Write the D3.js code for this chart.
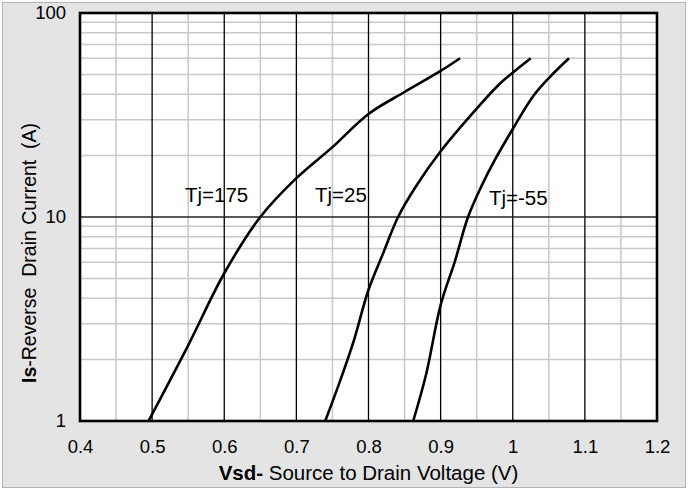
<!DOCTYPE html>
<meta charset="utf-8">
<style>
    body { margin: 0; background: #fff; }
    text { font-family: "Liberation Sans", Arial, sans-serif; fill: #000; }
</style>
<svg width="692" height="490"></svg>
<script src="https://d3js.org/d3.v7.min.js"></script>
<script>

    // curve data: Vsd (V) vs Is (A)
    var vsd175 = [0.495, 0.55, 0.6, 0.65, 0.7, 0.75, 0.8, 0.85, 0.9, 0.927];
    var is175  = [1, 2.35, 5.3, 10, 15.5, 22, 32, 41, 52, 60];

    var vsd25 = [0.74, 0.76, 0.78, 0.8, 0.82, 0.841, 0.865, 0.9, 0.95, 0.982, 1.0, 1.025];
    var is25  = [1, 1.55, 2.5, 4.4, 6.6, 10, 14, 21, 34, 45, 51, 60];

    var vsdM55 = [0.862, 0.88, 0.9, 0.92, 0.938, 0.958, 0.975, 1.0, 1.028, 1.05, 1.078];
    var isM55  = [1, 1.7, 3.7, 6.1, 10, 14.5, 19, 27, 39, 48, 60];

    var xTicks = [0.4, 0.5, 0.6, 0.7, 0.8, 0.9, 1, 1.1, 1.2];
    var yTicks = [1, 10, 100];

    var labels = [
        {text: "Tj=175", v: 0.5456, i: 11.85},
        {text: "Tj=25",  v: 0.7258, i: 11.85},
        {text: "Tj=-55", v: 0.967,  i: 11.45}
    ];

    var svg = d3.select("svg"),
        margin = {top: 13, right: 35, bottom: 69, left: 80},
        width = 692 - margin.left - margin.right,
        height = 490 - margin.top - margin.bottom;

    // chart area
    svg.append("rect")
        .attr("x", 2.5).attr("y", 2.5)
        .attr("width", 683).attr("height", 485)
        .attr("fill", "#e4e4e4")
        .attr("stroke", "#b4b4b4");

    var x = d3.scaleLinear().domain([0.4, 1.2]).range([0, width]),
        y = d3.scaleLog().domain([1, 100]).range([height, 0]);

    var g = svg.append("g")
        .attr("transform", "translate(" + margin.left + "," + margin.top + ")");

    g.append("rect")
        .attr("width", width).attr("height", height)
        .attr("fill", "#fff");

    // minor grid
    var minorY = [];
    [1, 10].forEach(function(d) { for (var k = 2; k <= 9; k++) minorY.push(d * k); });
    g.selectAll(".hminor").data(minorY).enter().append("line")
        .attr("x1", 0).attr("x2", width)
        .attr("y1", function(d) { return y(d); }).attr("y2", function(d) { return y(d); })
        .attr("stroke", "#c8c8c8").attr("stroke-width", 1.5);

    var minorX = d3.range(0, 8).map(function(k) { return 0.45 + k * 0.1; });
    g.selectAll(".vminor").data(minorX).enter().append("line")
        .attr("y1", 0).attr("y2", height)
        .attr("x1", function(d) { return x(d); }).attr("x2", function(d) { return x(d); })
        .attr("stroke", "#c8c8c8").attr("stroke-width", 1.5);

    // major grid
    g.selectAll(".vmajor").data(xTicks.slice(1, -1)).enter().append("line")
        .attr("y1", 0).attr("y2", height)
        .attr("x1", function(d) { return x(d); }).attr("x2", function(d) { return x(d); })
        .attr("stroke", "#000").attr("stroke-width", 1.3);

    g.append("line")
        .attr("x1", 0).attr("x2", width)
        .attr("y1", y(10)).attr("y2", y(10))
        .attr("stroke", "#222").attr("stroke-width", 1.3);

    // axes
    var xAxis = g.append("g")
        .attr("transform", "translate(0," + height + ")")
        .call(d3.axisBottom(x).tickValues(xTicks).tickFormat(d3.format("")).tickSize(0).tickPadding(19));
    var yAxis = g.append("g")
        .call(d3.axisLeft(y).tickValues(yTicks).tickFormat(d3.format("")).tickSize(0).tickPadding(14));
    [xAxis, yAxis].forEach(function(a) {
        a.select(".domain").remove();
        a.selectAll("text").attr("font-size", 18.5).attr("font-family", "Liberation Sans, Arial, sans-serif");
    });

    // curves
    var line = d3.line()
        .x(function(d) { return x(d[0]); })
        .y(function(d) { return y(d[1]); })
        .curve(d3.curveCatmullRom.alpha(0.5));

    [[vsd175, is175], [vsd25, is25], [vsdM55, isM55]].forEach(function(s) {
        g.append("path")
            .datum(d3.zip(s[0], s[1]))
            .attr("fill", "none")
            .attr("stroke", "#000")
            .attr("stroke-width", 2.6)
            .attr("d", line);
    });

    g.selectAll(".lbl").data(labels).enter().append("text")
        .attr("x", function(d) { return x(d.v); })
        .attr("y", function(d) { return y(d.i); })
        .attr("font-size", 20.5)
        .text(function(d) { return d.text; });

    // plot border
    g.append("rect")
        .attr("width", width).attr("height", height)
        .attr("fill", "none")
        .attr("stroke", "#000").attr("stroke-width", 2.6);

    // axis titles
    var xt = svg.append("text")
        .attr("x", margin.left + width / 2)
        .attr("y", 480)
        .attr("text-anchor", "middle")
        .attr("font-size", 20.5);
    xt.append("tspan").attr("font-weight", "bold").text("Vsd-");
    xt.append("tspan").text(" Source to Drain Voltage (V)");

    var yt = svg.append("text")
        .attr("transform", "translate(36,383) rotate(-90)")
        .attr("text-anchor", "start")
        .attr("xml:space", "preserve")
        .style("white-space", "pre")
        .attr("font-size", 19.5);
    yt.append("tspan").attr("font-weight", "bold").text("Is");
    yt.append("tspan").text("-Reverse  Drain Current  (A)");

</script>
